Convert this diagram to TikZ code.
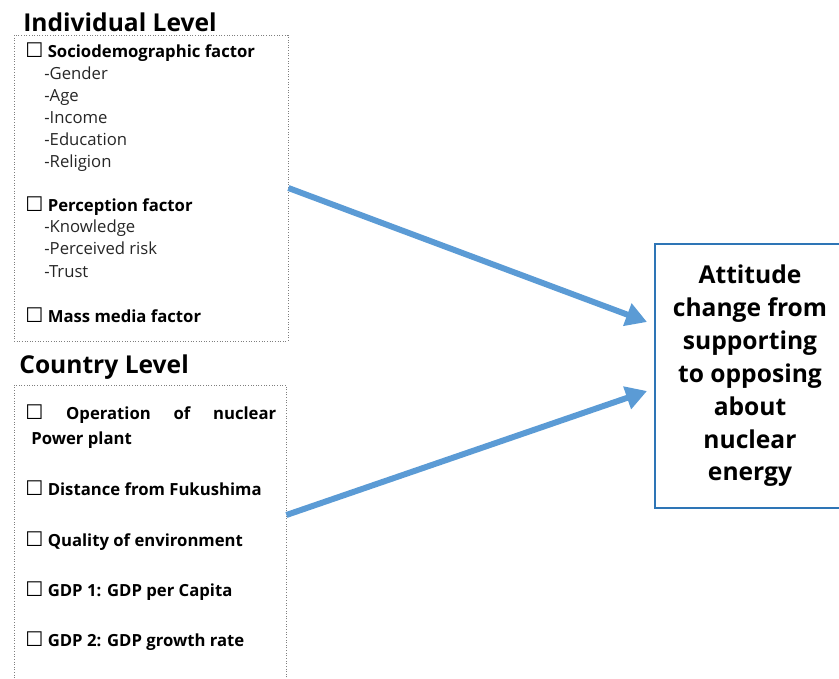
\documentclass[tikz,border=0pt]{standalone}
\usepackage{fontspec}
\setmainfont{Open Sans}
\newfontfamily\symfont{DejaVu Sans}
\usetikzlibrary{arrows.meta,positioning}

\definecolor{arrowBlue}{HTML}{5B9BD5}
\definecolor{boxBlue}{HTML}{2E75B6}
\definecolor{dotGray}{HTML}{7F7F7F}
\newcommand{\cbox}{{\symfont\fontsize{11.5}{11.5}\selectfont ☐}}

\tikzset{
  levelbox/.style={draw=dotGray, densely dotted, line width=0.5pt, inner sep=0pt},
  leveltitle/.style={anchor=base west, inner sep=0pt, font=\fontsize{14}{16}\selectfont\bfseries},
  factor/.style={anchor=base west, inner sep=0pt, font=\fontsize{9.5}{11}\selectfont\bfseries},
  subitem/.style={anchor=base west, inner sep=0pt, font=\fontsize{9.5}{11}\selectfont, text=black!85},
  outcome/.style={draw=boxBlue, line width=1.1pt, minimum width=3.8cm, minimum height=5.28cm,
    align=center, font=\fontsize{14}{18.7}\selectfont\bfseries},
  flow/.style={arrowBlue, line width=3.4pt, -{Triangle[length=12pt,width=13pt]}}
}

\begin{document}
\begin{tikzpicture}[x=0.02cm, y=-0.02cm]
  \useasboundingbox (0,0) rectangle (839,679);

  % Individual level
  \node[leveltitle] (indtitle) at (23,32) {Individual Level};
  \node[levelbox, minimum width=5.48cm, minimum height=6.12cm] (indbox) at (151,188) {};
  \node[factor] (socio) at (25,58) {\cbox\ Sociodemographic factor};
  \foreach \t/\y [count=\i] in {Gender/80, Age/102, Income/124, Education/146, Religion/168}
    \node[subitem] (socio-\i) at (44,\y) {-\t};
  \node[factor] (percep) at (25,212) {\cbox\ Perception factor};
  \foreach \t/\y [count=\i] in {Knowledge/233, Perceived risk/255, Trust/277}
    \node[subitem] (percep-\i) at (44,\y) {-\t};
  \node[factor] (media) at (25,322) {\cbox\ Mass media factor};

  % Country level
  \node[leveltitle] (ctrytitle) at (19,373) {Country Level};
  \node[levelbox, minimum width=5.44cm, minimum height=6.1cm] (ctrybox) at (150,537.5) {};
  \node[factor, text width=5.02cm] (oper) at (25,419) {\cbox\hfill Operation\hfill of\hfill nuclear};
  \node[factor] (oper-2) at (31,444) {Power plant};
  \node[factor] (dist) at (25,495) {\cbox\ Distance from Fukushima};
  \node[factor] (envir) at (25,546) {\cbox\ Quality of environment};
  \node[factor] (gdpa) at (25,596) {\cbox\ GDP 1: GDP per Capita};
  \node[factor] (gdpb) at (25,646) {\cbox\ GDP 2: GDP growth rate};

  % Outcome
  \node[outcome] (target) at (750,376) {Attitude\\change from\\supporting\\to opposing\\about\\nuclear\\energy};

  % Arrows
  \draw[flow] (indbox.east) -- ([shift={(-7,-54)}]target.west);
  \draw[flow] ([shift={(0,-22.5)}]ctrybox.east) -- ([shift={(-7,15)}]target.west);
\end{tikzpicture}
\end{document}
